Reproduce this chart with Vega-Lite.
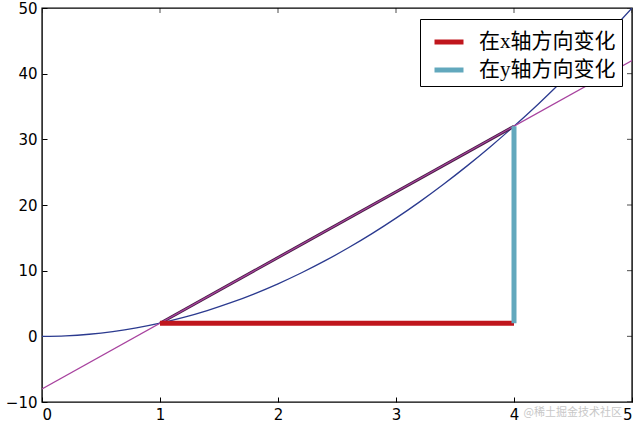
{
  "$schema": "https://vega.github.io/schema/vega-lite/v6.json",
  "autosize": {"type": "none"},
  "width": 590,
  "height": 394,
  "padding": {"left": 42, "top": 8, "right": 8, "bottom": 21},
  "background": "white",
  "config": {
    "view": {"stroke": "black", "strokeWidth": 1.4},
    "axis": {
      "domain": false,
      "grid": false,
      "tickColor": "black",
      "tickSize": -5,
      "tickWidth": 1,
      "labelFont": "DejaVu Sans",
      "labelFontSize": 15,
      "labelColor": "black",
      "labelPadding": 10,
      "title": null
    }
  },
  "datasets": {
    "curve": [
      {"x": 0, "y": 0}, {"x": 0.2, "y": 0.08}, {"x": 0.4, "y": 0.32}, {"x": 0.6, "y": 0.72},
      {"x": 0.8, "y": 1.28}, {"x": 1.0, "y": 2}, {"x": 1.2, "y": 2.88}, {"x": 1.4, "y": 3.92},
      {"x": 1.6, "y": 5.12}, {"x": 1.8, "y": 6.48}, {"x": 2.0, "y": 8}, {"x": 2.2, "y": 9.68},
      {"x": 2.4, "y": 11.52}, {"x": 2.6, "y": 13.52}, {"x": 2.8, "y": 15.68}, {"x": 3.0, "y": 18},
      {"x": 3.2, "y": 20.48}, {"x": 3.4, "y": 23.12}, {"x": 3.6, "y": 25.92}, {"x": 3.8, "y": 28.88},
      {"x": 4.0, "y": 32}, {"x": 4.2, "y": 35.28}, {"x": 4.4, "y": 38.72}, {"x": 4.6, "y": 42.32},
      {"x": 4.8, "y": 46.08}, {"x": 5.0, "y": 50}
    ],
    "secant": [{"x": 0, "y": -8}, {"x": 5, "y": 42}],
    "segment": [{"x": 1, "y": 2}, {"x": 4, "y": 32}],
    "changes": [
      {"series": "在x轴方向变化", "x": 1, "y": 2},
      {"series": "在x轴方向变化", "x": 4, "y": 2},
      {"series": "在y轴方向变化", "x": 4, "y": 2},
      {"series": "在y轴方向变化", "x": 4, "y": 32}
    ],
    "xticks": [{"x": 0, "y": 50}, {"x": 1, "y": 50}, {"x": 2, "y": 50}, {"x": 3, "y": 50}, {"x": 4, "y": 50}, {"x": 5, "y": 50}],
    "yticks": [{"x": 5, "y": -10}, {"x": 5, "y": 0}, {"x": 5, "y": 10}, {"x": 5, "y": 20}, {"x": 5, "y": 30}, {"x": 5, "y": 40}, {"x": 5, "y": 50}],
    "mark": [{"x": 5, "y": -10, "label": "@稀土掘金技术社区"}]
  },
  "encoding": {
    "x": {"field": "x", "type": "quantitative", "scale": {"domain": [0, 5], "nice": false},
          "axis": {"values": [0, 1, 2, 3, 4, 5]}},
    "y": {"field": "y", "type": "quantitative", "scale": {"domain": [-10, 50], "nice": false},
          "axis": {"values": [-10, 0, 10, 20, 30, 40, 50]}}
  },
  "layer": [
    {
      "data": {"name": "xticks"},
      "mark": {"type": "tick", "orient": "vertical", "size": 10, "thickness": 1, "color": "black", "clip": true}
    },
    {
      "data": {"name": "yticks"},
      "mark": {"type": "tick", "orient": "horizontal", "size": 10, "thickness": 1, "color": "black", "clip": true}
    },
    {
      "data": {"name": "curve"},
      "mark": {"type": "line", "color": "#2b3a8f", "strokeWidth": 1.3, "interpolate": "monotone", "clip": true}
    },
    {
      "data": {"name": "segment"},
      "mark": {"type": "line", "color": "#4a1f45", "strokeWidth": 3, "clip": true}
    },
    {
      "data": {"name": "secant"},
      "mark": {"type": "line", "color": "#a8439f", "strokeWidth": 1.2, "clip": true}
    },
    {
      "data": {"name": "changes"},
      "mark": {"type": "line", "strokeWidth": 5, "clip": true},
      "encoding": {
        "color": {
          "field": "series", "type": "nominal",
          "scale": {"domain": ["在x轴方向变化", "在y轴方向变化"], "range": ["#c0161d", "#62a8bd"]},
          "legend": {
            "title": null,
            "orient": "none",
            "legendX": 378,
            "legendY": 11,
            "direction": "vertical",
            "symbolType": "stroke",
            "symbolSize": 841,
            "symbolStrokeWidth": 5,
            "symbolOffset": 6,
            "labelFont": "Liberation Serif, Noto Sans CJK SC",
            "labelFontSize": 21,
            "labelColor": "black",
            "labelOffset": 13,
            "labelLimit": 300,
            "rowPadding": 1,
            "padding": 6,
            "strokeColor": "black",
            "fillColor": "white",
            "cornerRadius": 0
          }
        }
      }
    },
    {
      "data": {"name": "mark"},
      "mark": {"type": "text", "align": "right", "baseline": "top", "dy": 5, "dx": -10, "fontSize": 11, "color": "#c8c8c8", "font": "Noto Sans CJK SC", "clip": false},
      "encoding": {
        "text": {"field": "label"}
      }
    }
  ]
}
